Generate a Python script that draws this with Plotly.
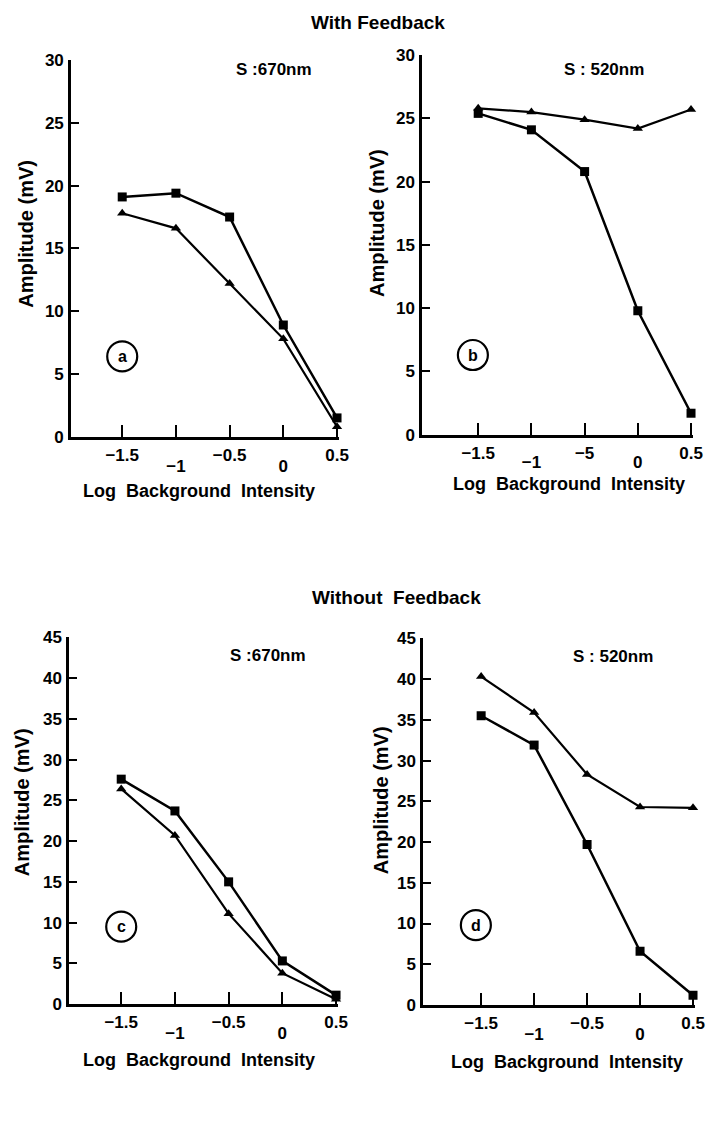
import plotly.graph_objects as go

# ---- data ----
x_vals = [-1.5, -1.0, -0.5, 0.0, 0.5]

a_square = [19.1, 19.4, 17.5, 8.9, 1.5]
a_triangle = [17.8, 16.6, 12.2, 7.8, 0.8]

b_square = [25.4, 24.1, 20.8, 9.8, 1.7]
b_triangle = [25.8, 25.5, 24.9, 24.2, 25.7]

c_square = [27.6, 23.7, 15.0, 5.3, 1.1]
c_triangle = [26.4, 20.7, 11.1, 3.8, 0.6]

d_square = [35.5, 31.9, 19.7, 6.6, 1.2]
d_triangle = [40.3, 35.9, 28.3, 24.3, 24.2]

# staggered tick labels: upper row / lower row
upper_vals = [-1.5, -0.5, 0.5]
lower_vals = [-1.0, 0.0]
upper_text_ac = ["\u22121.5", "\u22120.5", "0.5"]
upper_text_b = ["\u22121.5", "\u22125", "0.5"]
lower_text = ["\u22121", "0"]

yticks_top = [0, 5, 10, 15, 20, 25, 30]
yticks_bot = [0, 5, 10, 15, 20, 25, 30, 35, 40, 45]

FONT = "Liberation Sans, Arial, sans-serif"
TICKSIZE = 17

fig = go.Figure()

panels = [
    ("a", "x", "y", a_square, a_triangle),
    ("b", "x2", "y2", b_square, b_triangle),
    ("c", "x3", "y3", c_square, c_triangle),
    ("d", "x4", "y4", d_square, d_triangle),
]

for name, xa, ya, sq, tr in panels:
    fig.add_trace(go.Scatter(
        x=x_vals, y=sq, xaxis=xa, yaxis=ya, mode="lines+markers",
        line=dict(color="black", width=2.5),
        marker=dict(symbol="square", size=9, color="black"),
        showlegend=False, cliponaxis=False))
    fig.add_trace(go.Scatter(
        x=x_vals, y=tr, xaxis=xa, yaxis=ya, mode="lines+markers",
        line=dict(color="black", width=2.2),
        marker=dict(symbol="triangle-up", size=9, color="black"),
        showlegend=False, cliponaxis=False))

tickfont = dict(family=FONT, size=TICKSIZE, color="black", weight="bold")

def xaxis_cfg(domain, rng, anchor, upper_text):
    return dict(
        domain=domain, range=rng, anchor=anchor,
        tickmode="array", tickvals=x_vals,
        ticktext=[upper_text[0], "", upper_text[1], "", upper_text[2]],
        ticks="inside", ticklen=12, tickwidth=2, tickcolor="black",
        showline=True, linecolor="black", linewidth=2.5,
        showgrid=False, zeroline=False,
        tickfont=tickfont, ticklabelstandoff=1,
    )

def xaxis_lower(overlay, rng, anchor, standoff):
    return dict(
        overlaying=overlay, range=rng, anchor=anchor, side="bottom",
        tickmode="array", tickvals=lower_vals, ticktext=lower_text,
        ticks="", showline=False, showgrid=False, zeroline=False,
        tickfont=tickfont, ticklabelstandoff=standoff,
    )

def yaxis_cfg(domain, rng, anchor, tickvals):
    return dict(
        domain=domain, range=rng, anchor=anchor,
        tickmode="array", tickvals=tickvals,
        ticks="inside", ticklen=8, tickwidth=2, tickcolor="black",
        showline=True, linecolor="black", linewidth=2.5,
        showgrid=False, zeroline=False,
        tickfont=tickfont, ticklabelstandoff=1,
    )

rx_a = [-1.977, 0.52]
rx_b = [-2.028, 0.52]
rx_c = [-1.986, 0.52]
rx_d = [-2.049, 0.52]

fig.update_layout(
    width=715, height=1137,
    margin=dict(l=0, r=0, t=0, b=0),
    paper_bgcolor="white", plot_bgcolor="white",
    font=dict(family=FONT, color="black"),
    xaxis=xaxis_cfg([0.1007, 0.4811], rx_a, "y", upper_text_ac),
    yaxis=yaxis_cfg([0.6174, 0.9543], [0, 30], "x", yticks_top),
    xaxis2=xaxis_cfg([0.5986, 0.9832], rx_b, "y2", upper_text_b),
    yaxis2=yaxis_cfg([0.6192, 0.9587], [0, 30], "x2", yticks_top),
    xaxis3=xaxis_cfg([0.0979, 0.4797], rx_c, "y3", upper_text_ac),
    yaxis3=yaxis_cfg([0.1099, 0.4380], [0, 45], "x3", yticks_bot),
    xaxis4=xaxis_cfg([0.6000, 0.9860], rx_d, "y4", upper_text_ac),
    yaxis4=yaxis_cfg([0.1091, 0.4371], [0, 45], "x4", yticks_bot),
    xaxis5=xaxis_lower("x", rx_a, "y", 17),
    xaxis6=xaxis_lower("x2", rx_b, "y2", 15),
    xaxis7=xaxis_lower("x3", rx_c, "y3", 17),
    xaxis8=xaxis_lower("x4", rx_d, "y4", 17),
)

# invisible traces so the lower-row axes are drawn
for xa, ya in [("x5", "y"), ("x6", "y2"), ("x7", "y3"), ("x8", "y4")]:
    fig.add_trace(go.Scatter(x=[None], y=[None], xaxis=xa, yaxis=ya,
                             mode="markers", showlegend=False, hoverinfo="skip"))

H = 1137.0
W = 715.0

def pa(x, y, text, size=15, angle=0):
    fig.add_annotation(x=x / W, y=1 - y / H, xref="paper", yref="paper",
                       text=text, showarrow=False, textangle=angle,
                       font=dict(family=FONT, size=size, color="black", weight="bold"),
                       xanchor="center", yanchor="middle")

# section titles
pa(383, 14, "With Feedback", 19)
pa(402, 598, "Without  Feedback", 19)

# axis titles
for (xx, yy) in [(202, 490), (577, 483), (202, 1069), (575, 1071)]:
    pa(xx, yy, "Log  Background  Intensity", 18)
for (xx, yy) in [(27, 229), (383, 218), (22, 807), (386, 805)]:
    pa(xx, yy, "Amplitude (mV)", 20, -90)

# stimulus labels
pa(278, 62, "S :670nm", 17)
pa(613, 62, "S : 520nm", 17)
pa(272, 657, "S :670nm", 17)
pa(622, 658, "S : 520nm", 17)

# circled panel letters
letters = [("a", "x", "y", -1.5, 6.4), ("b", "x2", "y2", -1.55, 6.3),
           ("c", "x3", "y3", -1.5, 9.5), ("d", "x4", "y4", -1.55, 9.8)]
for letter, xa, ya, lx, ly in letters:
    fig.add_shape(type="circle", xref=xa, yref=ya, xsizemode="pixel", ysizemode="pixel",
                  xanchor=lx, yanchor=ly, x0=-15, x1=15, y0=-15, y1=15,
                  line=dict(color="black", width=2.2))
    fig.add_annotation(x=lx, y=ly, xref=xa, yref=ya, text=letter, showarrow=False,
                       font=dict(family=FONT, size=16, color="black", weight="bold"),
                       xanchor="center", yanchor="middle")

fig.write_html("out.html")
